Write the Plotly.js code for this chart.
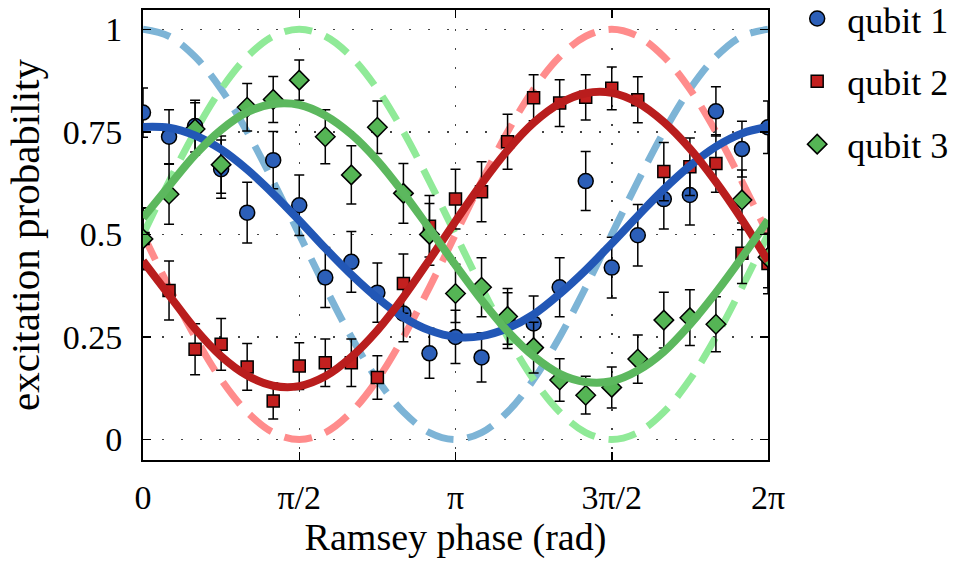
<!DOCTYPE html>
<html>
<head>
<meta charset="utf-8">
<script src="https://cdn.plot.ly/plotly-3.0.1.min.js"></script>
<style>html,body{margin:0;padding:0;background:#fff;}#chart{width:953px;height:567px;}</style>
</head>
<body>
<div id="chart"></div>
<script>
// Phase sample index in twelfths of pi (0 .. 24 -> 0 .. 2pi)
const phaseTwelfths = [0,1,2,3,4,5,6,7,8,9,10,11,12,13,14,15,16,17,18,19,20,21,22,23,24];

// Measured excitation probabilities
const qubit1 = [0.797,0.738,0.764,0.659,0.553,0.681,0.571,0.395,0.433,0.358,0.307,0.210,0.250,0.200,0.290,0.283,0.371,0.630,0.419,0.498,0.586,0.596,0.800,0.708,0.761];
const qubit2 = [0.490,0.363,0.220,0.232,0.177,0.094,0.179,0.187,0.187,0.151,0.380,0.520,0.586,0.604,0.726,0.833,0.820,0.834,0.856,0.828,0.653,0.665,0.673,0.454,0.429];
const qubit3 = [0.489,0.598,0.757,0.670,0.810,0.829,0.876,0.738,0.645,0.761,0.600,0.500,0.356,0.371,0.300,0.224,0.145,0.108,0.127,0.196,0.291,0.297,0.281,0.584,0.444];

// Error bars
const err1 = [0.060,0.066,0.063,0.071,0.074,0.070,0.074,0.073,0.074,0.072,0.069,0.061,0.065,0.060,0.068,0.067,0.072,0.072,0.074,0.075,0.073,0.073,0.060,0.068,0.064];
const err2 = [0.075,0.072,0.062,0.063,0.057,0.044,0.057,0.058,0.058,0.053,0.072,0.075,0.073,0.073,0.067,0.056,0.057,0.055,0.052,0.056,0.071,0.070,0.070,0.074,0.074];
const err3 = [0.075,0.073,0.064,0.070,0.058,0.056,0.049,0.066,0.071,0.064,0.073,0.075,0.071,0.072,0.068,0.062,0.052,0.046,0.050,0.059,0.068,0.068,0.067,0.073,0.074];

// Fitted curves (solid)
const fit1 = [0.762,0.760,0.741,0.707,0.658,0.599,0.534,0.466,0.402,0.345,0.298,0.266,0.250,0.252,0.271,0.305,0.355,0.413,0.478,0.545,0.610,0.667,0.714,0.746,0.762];
const fit2 = [0.435,0.352,0.270,0.203,0.156,0.131,0.130,0.154,0.201,0.266,0.347,0.438,0.532,0.623,0.705,0.772,0.819,0.844,0.845,0.821,0.774,0.709,0.628,0.536,0.435];
const fit3 = [0.540,0.618,0.694,0.755,0.798,0.818,0.816,0.790,0.744,0.680,0.601,0.514,0.425,0.340,0.264,0.203,0.160,0.140,0.142,0.168,0.214,0.280,0.358,0.444,0.535];

// Ideal curves (dashed)
const ideal1 = [1,0.983,0.933,0.854,0.75,0.629,0.5,0.371,0.25,0.146,0.067,0.017,0,0.017,0.067,0.146,0.25,0.371,0.5,0.629,0.75,0.854,0.933,0.983,1];
const ideal2 = [0.5,0.371,0.25,0.146,0.067,0.017,0,0.017,0.067,0.146,0.25,0.371,0.5,0.629,0.75,0.854,0.933,0.983,1,0.983,0.933,0.854,0.75,0.629,0.5];
const ideal3 = [0.5,0.629,0.75,0.854,0.933,0.983,1,0.983,0.933,0.854,0.75,0.629,0.5,0.371,0.25,0.146,0.067,0.017,0,0.017,0.067,0.146,0.25,0.371,0.5];

const seriesNames = ['qubit 1','qubit 2','qubit 3'];
const tickLabels = ['0','π/2','π','3π/2','2π'];
const tickTwelfths = [0,6,12,18,24];
const xTitle = 'Ramsey phase (rad)';
const yTitle = 'excitation probability';

const phase = phaseTwelfths.map(t => t*Math.PI/12);
const tickVals = tickTwelfths.map(t => t*Math.PI/12);

const FONT = '"Liberation Serif", "Times New Roman", serif';
const dash = '28px,14px';

function idealTrace(y, color){
  return {x: phase, y: y, type:'scatter', mode:'lines', showlegend:false, hoverinfo:'skip',
    line:{color:color, width:7, dash:dash, shape:'spline', smoothing:1}};
}
function fitTrace(y, color){
  return {x: phase, y: y, type:'scatter', mode:'lines', showlegend:false, hoverinfo:'skip',
    line:{color:color, width:8, shape:'spline', smoothing:1}};
}
function dataTrace(y, e, name, color, symbol, size){
  return {x: phase, y: y, type:'scatter', mode:'markers', name:name, legendgroup:name,
    marker:{color:color, symbol:symbol, size:size, line:{color:'#000', width:1.5}},
    error_y:{type:'data', array:e, visible:true, color:'#000', thickness:1.5, width:5}};
}

const traces = [
  idealTrace(ideal1, '#7db4d6'),
  idealTrace(ideal2, '#ff8c8c'),
  idealTrace(ideal3, '#90ea98'),
  dataTrace(qubit1, err1, seriesNames[0], '#2c5fb8', 'circle', 15),
  dataTrace(qubit2, err2, seriesNames[1], '#c3201f', 'square', 12),
  dataTrace(qubit3, err3, seriesNames[2], '#55b555', 'diamond', 15),
  fitTrace(fit1, '#2257b6'),
  fitTrace(fit2, '#b91d1d'),
  fitTrace(fit3, '#5cb85e')
];

const layout = {
  width: 953, height: 567,
  margin: {l:143, r:185, t:10, b:107, pad:0},
  paper_bgcolor:'#fff', plot_bgcolor:'#fff',
  font: {family: FONT, color:'#000', size:34},
  showlegend: true,
  legend: {xref:'container', yref:'container', x:0.826, xanchor:'left', y:0.692, yanchor:'bottom',
    font:{family:FONT, size:36, color:'#000'},
    traceorder:'grouped', tracegroupgap:13, bgcolor:'rgba(0,0,0,0)', itemwidth:50},
  xaxis: {
    range:[0, 2*Math.PI], tickmode:'array', tickvals:tickVals, ticktext:tickLabels,
    ticks:'inside', ticklen:8, tickwidth:1.5, tickcolor:'#000',
    showline:true, linecolor:'#000', linewidth:2, mirror:'ticks',
    showgrid:true, gridcolor:'#444', gridwidth:1.5, griddash:'2px,17px',
    zeroline:false, ticklabelstandoff:6,
    tickfont:{family:FONT, size:34, color:'#000'},
    title:{text: xTitle, font:{family:FONT, size:38, color:'#000'}, standoff:2},
    automargin:false
  },
  yaxis: {
    range:[-0.05, 1.047], tickmode:'array', tickvals:[0,0.25,0.5,0.75,1], ticktext:['0','0.25','0.5','0.75','1'],
    ticks:'inside', ticklen:8, tickwidth:1.5, tickcolor:'#000',
    showline:true, linecolor:'#000', linewidth:2, mirror:'ticks',
    showgrid:true, gridcolor:'#444', gridwidth:1.5, griddash:'2px,17px',
    zeroline:false, ticklabelstandoff:12,
    tickfont:{family:FONT, size:34, color:'#000'},
    title:{text: yTitle, font:{family:FONT, size:41, color:'#000'}, standoff:10},
    automargin:false
  }
};

Plotly.newPlot('chart', traces, layout, {displayModeBar:false, staticPlot:true});
</script>
</body>
</html>
